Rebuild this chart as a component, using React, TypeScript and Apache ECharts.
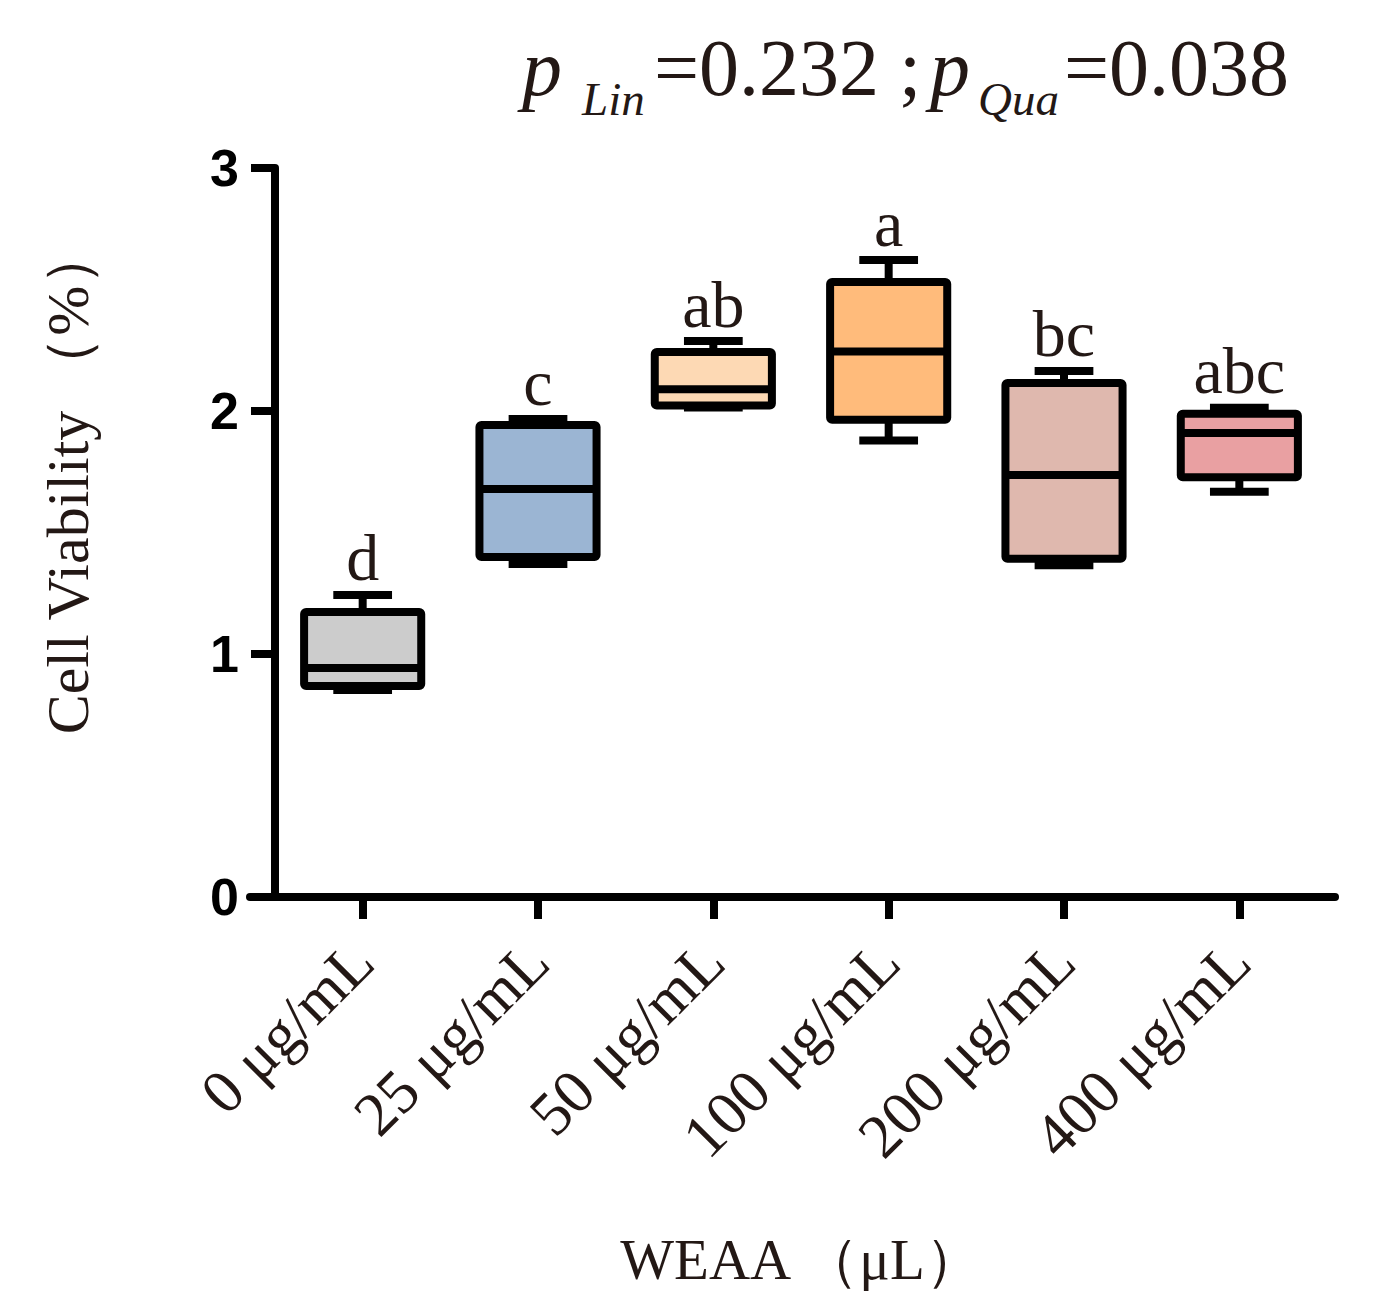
import React, { useEffect, useRef } from 'react';
import * as echarts from 'echarts';

const doses = ['0 μg/mL', '25 μg/mL', '50 μg/mL', '100 μg/mL', '200 μg/mL', '400 μg/mL'];
const lows = [0.852, 1.37, 2.014, 1.879, 1.365, 1.668];
const q1s = [0.868, 1.399, 2.023, 1.964, 1.392, 1.727];
const medians = [0.942, 1.679, 2.09, 2.245, 1.737, 1.909];
const q3s = [1.173, 1.942, 2.243, 2.531, 2.115, 1.989];
const highs = [1.243, 1.967, 2.288, 2.621, 2.165, 2.013];
const letters = ['d', 'c', 'ab', 'a', 'bc', 'abc'];
const fills = ['#cccccc', '#9bb5d3', '#fdd9b4', '#ffbb7b', '#dfb8ae', '#e9a0a2'];
const yTicks = [0, 1, 2, 3];

const SERIF = '"Liberation Serif", "Times New Roman", serif';
const INK = '#231815';

const App: React.FC = () => {
  const ref = useRef<HTMLDivElement>(null);

  useEffect(() => {
    if (!ref.current) return;
    const chart = echarts.init(ref.current, undefined, { renderer: 'svg' });

    const boxData = doses.map((_, i) => [i, lows[i], q1s[i], medians[i], q3s[i], highs[i]]);

    chart.setOption({
      animation: false,
      backgroundColor: '#ffffff',
      grid: [
        { left: 275, right: 52, top: 168, bottom: 417 },
        { left: 250, right: 44, top: 168, bottom: 417 }
      ],
      xAxis: [
        {
          type: 'category',
          data: doses,
          gridIndex: 0,
          axisLine: { show: false },
          axisTick: { show: true, alignWithLabel: true, length: 22, lineStyle: { color: '#000', width: 8 } },
          axisLabel: {
            rotate: 45,
            margin: 54,
            fontFamily: SERIF,
            fontSize: 62,
            color: INK
          },
          name: 'WEAA （μL）',
          nameLocation: 'middle',
          nameGap: 334,
          nameTextStyle: { fontFamily: SERIF, fontSize: 57, color: INK }
        },
        {
          type: 'value',
          gridIndex: 1,
          min: 0,
          max: 1,
          axisLine: { show: true, lineStyle: { color: '#000', width: 8 } },
          axisTick: { show: false },
          axisLabel: { show: false },
          splitLine: { show: false }
        }
      ],
      yAxis: [
        {
          type: 'value',
          gridIndex: 0,
          min: 0,
          max: 3,
          interval: 1,
          axisLine: { show: true, lineStyle: { color: '#000', width: 8 } },
          axisTick: { show: true, length: 24, lineStyle: { color: '#000', width: 8 } },
          axisLabel: {
            margin: 36,
            fontFamily: '"Liberation Sans", Arial, sans-serif',
            fontWeight: 'bold',
            fontSize: 52,
            color: '#000',
            formatter: (v: number) => (yTicks.includes(v) ? String(v) : '')
          },
          splitLine: { show: false }
        },
        { type: 'value', gridIndex: 1, show: false, min: 0, max: 1 }
      ],
      series: [
        {
          type: 'custom',
          xAxisIndex: 0,
          yAxisIndex: 0,
          data: boxData,
          encode: { x: 0, y: [1, 2, 3, 4, 5] },
          renderItem: (params: any, api: any) => {
            const i = api.value(0);
            const lo = api.coord([i, api.value(1)]);
            const q1 = api.coord([i, api.value(2)]);
            const med = api.coord([i, api.value(3)]);
            const q3 = api.coord([i, api.value(4)]);
            const hi = api.coord([i, api.value(5)]);
            const band = api.size([1, 0])[0];
            const boxW = band * 0.668;
            const capW = band * 0.335;
            const cx = q1[0];
            const line = { stroke: '#000', lineWidth: 8 };
            return {
              type: 'group',
              children: [
                { type: 'line', shape: { x1: cx, y1: hi[1], x2: cx, y2: q3[1] }, style: line },
                { type: 'line', shape: { x1: cx, y1: lo[1], x2: cx, y2: q1[1] }, style: line },
                { type: 'line', shape: { x1: cx - capW / 2, y1: hi[1], x2: cx + capW / 2, y2: hi[1] }, style: line },
                { type: 'line', shape: { x1: cx - capW / 2, y1: lo[1], x2: cx + capW / 2, y2: lo[1] }, style: line },
                {
                  type: 'rect',
                  shape: { x: cx - boxW / 2, y: q3[1], width: boxW, height: q1[1] - q3[1], r: 2 },
                  style: { fill: fills[params.dataIndex], stroke: '#000', lineWidth: 8, lineJoin: 'round' }
                },
                { type: 'line', shape: { x1: cx - boxW / 2, y1: med[1], x2: cx + boxW / 2, y2: med[1] }, style: line }
              ]
            };
          }
        },
        {
          type: 'scatter',
          xAxisIndex: 0,
          yAxisIndex: 0,
          symbolSize: 0,
          itemStyle: { opacity: 1 },
          data: highs.map((h, i) => [i, h]),
          label: {
            show: true,
            position: 'top',
            distance: 4,
            fontFamily: SERIF,
            fontSize: 66,
            color: INK,
            formatter: (p: any) => letters[p.dataIndex]
          }
        }
      ],
      graphic: [
        {
          type: 'text',
          rotation: Math.PI / 2,
          x: 68,
          y: 480,
          style: {
            text: 'Cell Viability （%）',
            fontFamily: SERIF,
            fontSize: 60,
            fill: INK,
            align: 'center',
            verticalAlign: 'middle'
          }
        },
        { type: 'text', x: 522, y: 68, style: { text: 'p', fontFamily: SERIF, fontStyle: 'italic', fontSize: 80, fill: INK, verticalAlign: 'middle' } },
        { type: 'text', x: 582, y: 99, style: { text: 'Lin', fontFamily: SERIF, fontStyle: 'italic', fontSize: 47, fill: INK, verticalAlign: 'middle' } },
        { type: 'text', x: 654, y: 68, style: { text: '=0.232 ;', fontFamily: SERIF, fontSize: 80, fill: INK, verticalAlign: 'middle' } },
        { type: 'text', x: 930, y: 68, style: { text: 'p', fontFamily: SERIF, fontStyle: 'italic', fontSize: 80, fill: INK, verticalAlign: 'middle' } },
        { type: 'text', x: 978, y: 99, style: { text: 'Qua', fontFamily: SERIF, fontStyle: 'italic', fontSize: 47, fill: INK, verticalAlign: 'middle' } },
        { type: 'text', x: 1064, y: 68, style: { text: '=0.038', fontFamily: SERIF, fontSize: 80, fill: INK, verticalAlign: 'middle' } }
      ]
    });

    return () => {
      chart.dispose();
    };
  }, []);

  return (
    <div
      ref={ref}
      style={{ position: 'absolute', left: 0, top: 0, width: 1379, height: 1314, background: '#fff' }}
    />
  );
};

export default App;
